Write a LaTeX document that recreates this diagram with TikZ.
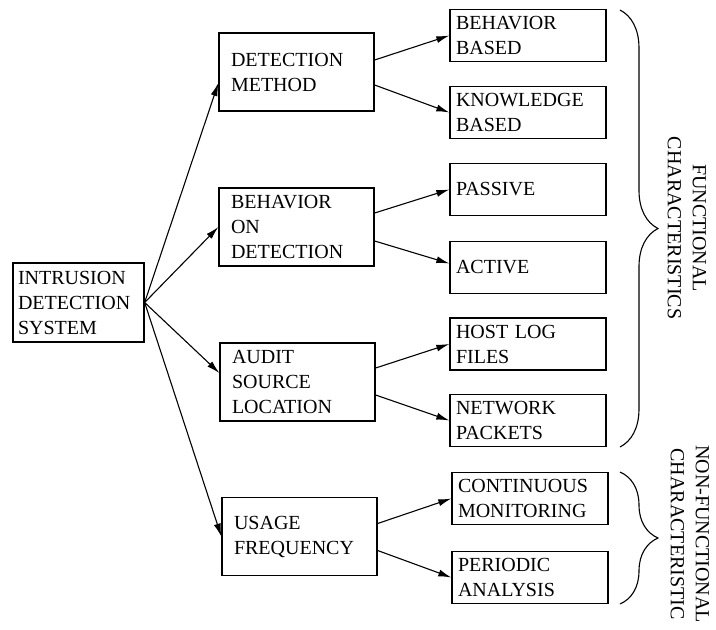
\documentclass[tikz,border=0pt]{standalone}
\usepackage{fontspec}
\setmainfont{Liberation Serif}
\usetikzlibrary{arrows.meta,decorations.pathreplacing,calc}
\begin{document}
\begin{tikzpicture}[x=1pt,y=-1pt,
 txt/.style={font=\fontsize{20}{25}\selectfont, text=black},
 bx/.style={draw, line width=1.3pt, txt, align=left, inner ysep=0pt},
 lbx/.style={bx, text width=121pt, inner xsep=5pt, minimum height=79pt},
 mbx/.style={bx, text width=131pt, inner xsep=12pt, minimum height=78pt},
 rbx/.style={bx, text width=144pt, inner xsep=6pt, minimum height=52pt},
 arr/.style={line width=1.1pt, -{Latex[length=13pt,width=7pt]}},
 brc/.style={decorate, decoration={brace, amplitude=38pt}, line width=1.1pt},
 side/.style={txt, rotate=-90, align=center, inner sep=0pt}
]
\useasboundingbox (0,0) rectangle (716,630);
% left
\node[lbx] (ids) at (78.5,302.5) {INTRUSION\\DETECTION\\SYSTEM};
% middle
\node[mbx] (dm) at (296.5,72) {DETECTION\\METHOD};
\node[mbx] (bod) at (296.5,227) {BEHAVIOR\\ON\\DETECTION};
\node[mbx] (asl) at (297.5,382) {AUDIT\\SOURCE\\LOCATION};
\node[mbx] (uf) at (299.5,536.5) {USAGE\\FREQUENCY};
% right
\node[rbx] (bb) at (528,35.5) {BEHAVIOR\\BASED};
\node[rbx] (kb) at (528,112.5) {KNOWLEDGE\\BASED};
\node[rbx] (pa) at (528,189.5) {PASSIVE};
\node[rbx] (ac) at (528,267.5) {ACTIVE};
\node[rbx] (hl) at (528,344) {HOST LOG\\FILES};
\node[rbx] (np) at (528,420.5) {NETWORK\\PACKETS};
\node[rbx] (cm) at (530,498.5) {CONTINUOUS\\MONITORING};
\node[rbx] (pe) at (530,577.5) {PERIODIC\\ANALYSIS};
% arrows from IDS
\draw[arr] (ids.east) -- ($(dm.west)+(0,11)$);
\draw[arr] (ids.east) -- (bod.west);
\draw[arr] (ids.east) -- ($(asl.west)+(0,-9)$);
\draw[arr] (ids.east) -- (uf.west);
% arrows to right
\draw[arr] ($(dm.east)+(0,-12)$) -- (bb.west);
\draw[arr] ($(dm.east)+(0,13)$) -- (kb.west);
\draw[arr] ($(bod.east)+(0,-14)$) -- (pa.west);
\draw[arr] ($(bod.east)+(0,14)$) -- ($(ac.west)+(0,-4)$);
\draw[arr] ($(asl.east)+(0,-14)$) -- (hl.west);
\draw[arr] ($(asl.east)+(0,13)$) -- (np.west);
\draw[arr] ($(uf.east)+(0,-13)$) -- (cm.west);
\draw[arr] ($(uf.east)+(0,14)$) -- (pe.west);
% braces
\coordinate (b1s) at (620,10);
\coordinate (b1e) at (620,447);
\coordinate (b2s) at (620,472);
\coordinate (b2e) at (620,604);
\draw[brc] (b1s) -- (b1e);
\draw[brc] (b2s) -- (b2e);
\node[side] (fc) at (687,228) {FUNCTIONAL\\CHARACTERISTICS};
\node[side] (nfc) at (690,534) {NON-FUNCTIONAL\\CHARACTERISTIC};
\end{tikzpicture}
\end{document}
